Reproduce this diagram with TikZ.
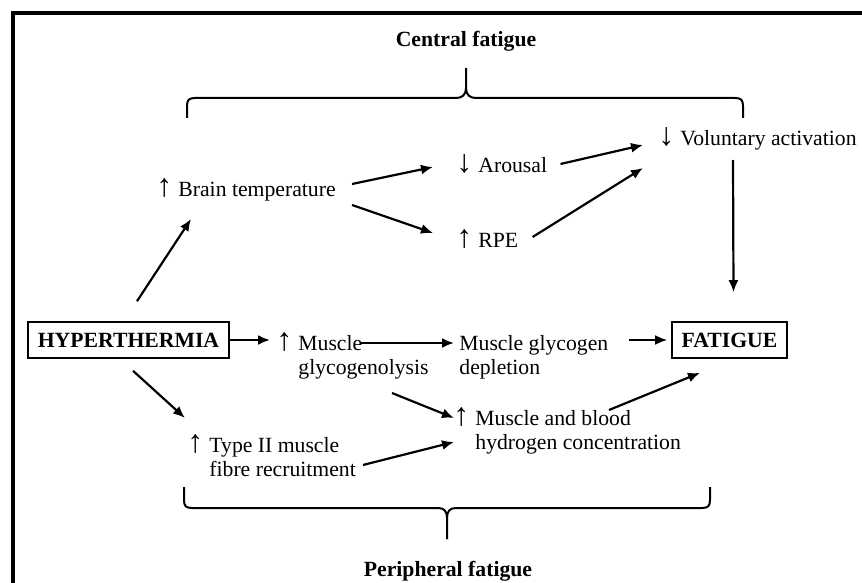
\documentclass[tikz,border=0pt]{standalone}
\usepackage{fontspec}
\setmainfont{Liberation Serif}
\usetikzlibrary{arrows.meta}
\newcommand{\UpArr}{\llap{{\fontsize{16}{16}\selectfont\bfseries ↑}\hspace{3pt}}}
\newcommand{\DnArr}{\llap{{\fontsize{16}{16}\selectfont\bfseries ↓}\hspace{3pt}}}

\begin{document}
\begin{tikzpicture}[x=0.5pt,y=-0.5pt]
  \tikzset{Label/.style={inner sep=0pt, anchor=base west, align=left,
      font=\fontsize{10.85}{12}\selectfont},
    Head/.style={inner sep=0pt, anchor=base, font=\fontsize{10.85}{12}\selectfont\bfseries},
    Box/.style={draw, line width=0.8pt, inner xsep=0pt, minimum height=18pt,
      font=\fontsize{10.85}{12}\selectfont\bfseries},
    Link/.style={-{Latex[length=6pt,width=5pt]}, line width=1.1pt},
    Brace/.style={line width=1pt}}
  \useasboundingbox (0,0) rectangle (862,583);
  \draw[line width=2pt] (13,583) -- (13,13) -- (862,13);

  \node[Head] (central) at (466,47) {Central fatigue};
  \node[Head] (periph) at (448,576) {Peripheral fatigue};
  \node[Label] (brain) at (178,197) {\UpArr Brain temperature};
  \node[Label] (arousal) at (478,172) {\DnArr Arousal};
  \node[Label] (rpe) at (478,247) {\UpArr RPE};
  \node[Label] (volact) at (680,146) {\DnArr Voluntary activation};
  \node[Box, minimum width=100.5pt] (hyper) at (128.5,340) {HYPERTHERMIA};
  \node[Box, minimum width=57.5pt] (fatigue) at (729.5,340) {FATIGUE};
  % base of a two-line node is its last line
  \node[Label] (glyco) at (298,374) {\UpArr Muscle\\glycogenolysis};
  \node[Label] (deplete) at (459,374) {Muscle glycogen\\depletion};
  \node[Label] (hydro) at (475,449) {\UpArr Muscle and blood\\hydrogen concentration};
  \node[Label] (typeII) at (209,476) {\UpArr Type II muscle\\fibre recruitment};

  \draw[Brace] (187,118) -- (187,106) .. controls (187,100) and (189,98) .. (195,98)
    -- (456,98) .. controls (462,98) and (466,95) .. (466,88) -- (466,68)
    -- (466,88) .. controls (466,95) and (470,98) .. (476,98)
    -- (735,98) .. controls (741,98) and (743,100) .. (743,106) -- (743,118);
  \draw[Brace] (184,487) -- (184,500) .. controls (184,506) and (186,508) .. (192,508)
    -- (438,508) .. controls (444,508) and (447,511) .. (447,518) -- (447,539)
    -- (447,518) .. controls (447,511) and (450,508) .. (456,508)
    -- (702,508) .. controls (708,508) and (710,506) .. (710,500) -- (710,487);

  \draw[Link] ([shift={(8.5,-20)}]hyper.north) -- ([shift={(13,22)}]brain.base west);
  \draw[Link] ([shift={(16,-13)}]brain.base east) -- ([shift={(-45,-5)}]arousal.base west);
  \draw[Link] ([shift={(16,8)}]brain.base east) -- ([shift={(-45,-14)}]rpe.base west);
  \draw[Link] ([shift={(13,-8)}]arousal.base east) -- ([shift={(-37,-1)}]volact.base west);
  \draw[Link] ([shift={(14,-10)}]rpe.base east) -- ([shift={(-37,22)}]volact.base west);
  \draw[Link] ([shift={(53,14)}]volact.base west) -- ([shift={(4,-29)}]fatigue.north);
  \draw[Link] (hyper.east) -- ([shift={(-28,0)}]hyper.east -| glyco.base west);
  \draw[Link] ([shift={(63,-31)}]glyco.base west) -- ([shift={(-5,-31)}]deplete.base west);
  \draw[Link] ([shift={(20,0)}]deplete.east |- fatigue.west) -- ([shift={(-4,0)}]fatigue.west);
  \draw[Link] ([shift={(4.5,12)}]hyper.south) -- ([shift={(-24,-58)}]typeII.base west);
  \draw[Link] ([shift={(94,19)}]glyco.base west) -- ([shift={(-21,-31)}]hydro.base west);
  \draw[Link] ([shift={(154,-11)}]typeII.base west) -- ([shift={(-21,-7)}]hydro.base west);
  \draw[Link] ([shift={(134,-39)}]hydro.base west) -- ([shift={(-29.5,14)}]fatigue.south);
\end{tikzpicture}
\end{document}
